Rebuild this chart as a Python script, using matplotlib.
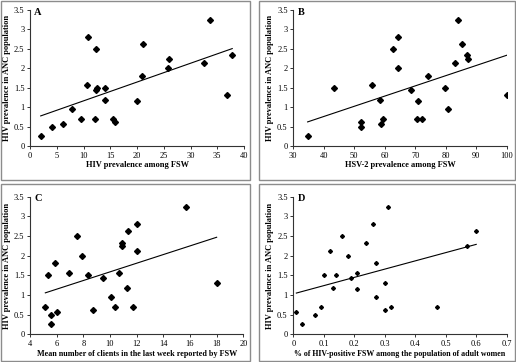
import numpy as np
import matplotlib
matplotlib.use("Agg")
import matplotlib.pyplot as plt
from matplotlib.patches import Rectangle
from matplotlib.ticker import FormatStrFormatter

plt.rcParams["font.family"] = ["Liberation Serif", "DejaVu Serif"]

# Panel A: HIV prevalence among FSW
hiv_fsw = [2.0, 4.1, 6.1, 7.8, 9.5, 10.8, 10.6, 12.3, 12.5, 12.4, 12.2, 14.1,
           14.0, 15.5, 15.9, 20.0, 20.9, 21.1, 25.8, 26.0, 32.6, 33.6, 36.9, 37.8]
anc_a = [0.25, 0.50, 0.57, 0.94, 0.69, 2.81, 1.56, 2.50, 1.50, 1.44, 0.69, 1.50,
         1.19, 0.69, 0.62, 1.16, 1.81, 2.63, 2.00, 2.25, 2.13, 3.25, 1.31, 2.33]

# Panel B: HSV-2 prevalence among FSW
hsv_fsw = [34.7, 43.2, 52.1, 52.1, 55.7, 58.5, 58.9, 59.5, 62.8, 64.2, 64.4, 68.5,
           70.9, 70.7, 72.1, 74.1, 79.6, 80.7, 83.1, 83.9, 85.2, 86.9, 87.3, 100.0]
anc_b = [0.25, 1.50, 0.62, 0.50, 1.56, 1.19, 0.57, 0.69, 2.50, 2.00, 2.81, 1.44,
         1.16, 0.69, 0.69, 1.81, 1.50, 0.94, 2.13, 3.25, 2.63, 2.33, 2.25, 1.31]

# Panel C: mean number of clients last week
clients = [5.15, 5.33, 5.58, 5.58, 5.88, 6.0, 6.93, 7.5, 7.9, 8.35, 8.75, 9.48,
           10.1, 10.4, 10.65, 10.9, 10.9, 11.25, 11.37, 11.7, 12.0, 12.05, 15.68, 18.0]
anc_c = [0.69, 1.50, 0.50, 0.25, 1.81, 0.57, 1.56, 2.50, 2.00, 1.50, 0.62, 1.44,
         0.94, 0.69, 1.57, 2.33, 2.25, 1.19, 2.63, 0.69, 2.13, 2.81, 3.25, 1.31]

# Panel D: % HIV+ FSW among adult women
pct_fsw = [0.01, 0.03, 0.07, 0.09, 0.10, 0.12, 0.13, 0.14, 0.16, 0.18, 0.19, 0.21,
           0.21, 0.24, 0.26, 0.27, 0.27, 0.30, 0.30, 0.31, 0.32, 0.47, 0.57, 0.60]
anc_d = [0.57, 0.25, 0.50, 0.69, 1.50, 2.13, 1.19, 1.50, 2.50, 2.00, 1.44, 1.56,
         1.16, 2.33, 2.81, 1.81, 0.94, 1.31, 0.62, 3.25, 0.69, 0.69, 2.25, 2.63]

W, H = 516, 362
fig = plt.figure(figsize=(W / 100, H / 100), dpi=100)

# panel frames in pixels (x0, y0, x1, y1)
frames = [(1, 1, 250, 180), (259, 1, 515, 180),
          (1, 184, 250, 361), (259, 184, 515, 361)]
for x0, y0, x1, y1 in frames:
    fig.patches.append(Rectangle((x0 / W, 1 - y1 / H), (x1 - x0) / W, (y1 - y0) / H,
                                 transform=fig.transFigure, fill=False,
                                 edgecolor="#8c8c8c", linewidth=1.0))

panels = [
    dict(box=(30, 10, 244, 146), x=hiv_fsw, y=anc_a, xlim=(0, 40), step=5,
         xlabel="HIV prevalence among FSW", letter="A", ms=3.0, fs=6.0),
    dict(box=(293.3, 10, 506.7, 146), x=hsv_fsw, y=anc_b, xlim=(30, 100), step=10,
         xlabel="HSV-2 prevalence among FSW", letter="B", ms=3.0, fs=6.0),
    dict(box=(30, 196.7, 243.3, 334.3), x=clients, y=anc_c, xlim=(4, 20), step=2,
         xlabel="Mean number of clients in the last week reported by FSW",
         letter="C", ms=3.0, fs=5.9),
    dict(box=(293.3, 196.7, 506.7, 334.3), x=pct_fsw, y=anc_d, xlim=(0, 0.7), step=0.1,
         xlabel="% of HIV-positive FSW among the population of adult women",
         letter="D", ms=2.0, fs=5.7),
]

for p in panels:
    l, t, r, b = p["box"]
    ax = fig.add_axes([l / W, 1 - b / H, (r - l) / W, (b - t) / H])
    x = np.array(p["x"])
    y = np.array(p["y"])
    ax.plot(x, y, linestyle="none", marker="D", color="black", ms=p["ms"])
    k, c = np.polyfit(x, y, 1)
    xs = np.array([x.min(), x.max()])
    ax.plot(xs, k * xs + c, color="black", linewidth=0.8)

    ax.set_xlim(*p["xlim"])
    ax.set_ylim(0, 3.5)
    ax.set_xticks(np.arange(p["xlim"][0], p["xlim"][1] + p["step"] / 2, p["step"]))
    ax.set_yticks(np.arange(0, 3.51, 0.5))
    ax.xaxis.set_major_formatter(FormatStrFormatter("%g"))
    ax.yaxis.set_major_formatter(FormatStrFormatter("%g"))
    for s in ["top", "right"]:
        ax.spines[s].set_visible(False)
    for s in ["left", "bottom"]:
        ax.spines[s].set_linewidth(0.8)
        ax.spines[s].set_color("#333333")
    ax.tick_params(direction="out", length=2.5, width=0.7, labelsize=6,
                   pad=1.5, colors="#333333", labelcolor="black")

    ax.set_xlabel(p["xlabel"], fontsize=p["fs"], fontweight="bold")
    ax.set_ylabel("HIV prevalence in ANC population", fontsize=6.0, fontweight="bold")
    ax.xaxis.set_label_coords(0.5, -0.112)
    ax.yaxis.set_label_coords(-0.09, 0.5)
    ax.text(0.037, 0.985, p["letter"], transform=ax.transAxes, fontsize=7.5,
            fontweight="bold", ha="center", va="center")

fig.savefig("out.png", dpi=100, facecolor="white")
